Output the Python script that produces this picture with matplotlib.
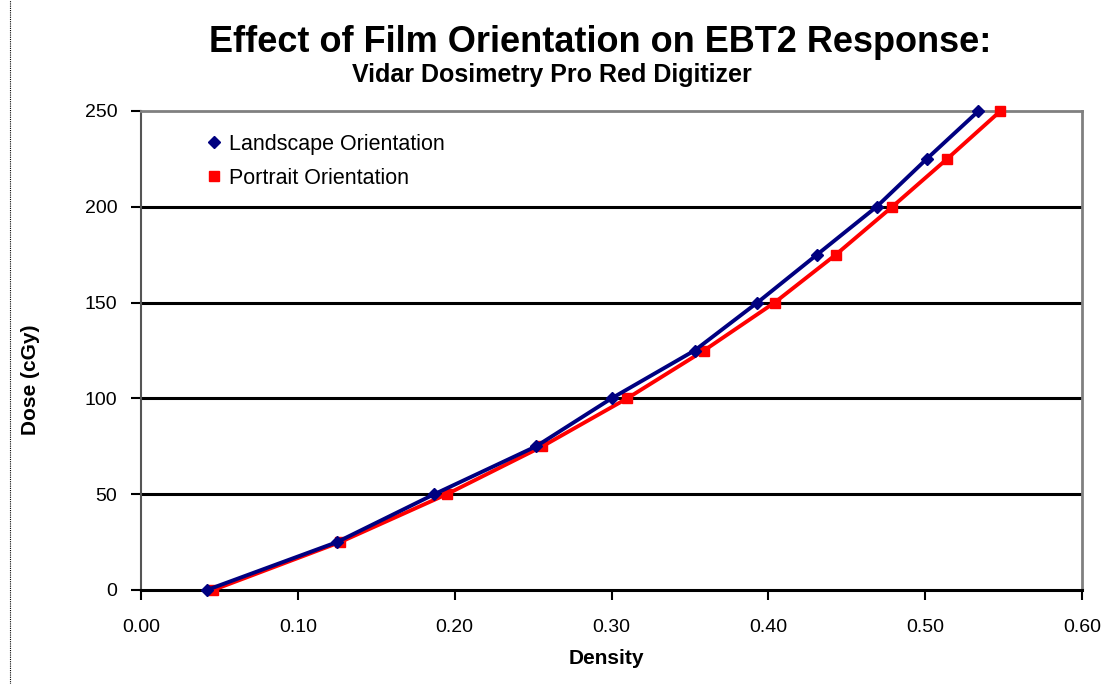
import matplotlib
matplotlib.use("Agg")
import matplotlib.pyplot as plt
from matplotlib.lines import Line2D

dose = [0, 25, 50, 75, 100, 125, 150, 175, 200, 225, 250]
landscape_density = [0.042, 0.125, 0.187, 0.252, 0.300, 0.353, 0.393, 0.431, 0.469, 0.501, 0.534]
portrait_density = [0.046, 0.127, 0.195, 0.256, 0.310, 0.359, 0.404, 0.443, 0.479, 0.514, 0.548]

x_ticks = [0.0, 0.1, 0.2, 0.3, 0.4, 0.5, 0.6]
x_labels = ["0.00", "0.10", "0.20", "0.30", "0.40", "0.50", "0.60"]
y_ticks = [0, 50, 100, 150, 200, 250]

plt.rcParams['font.family'] = ['Liberation Sans', 'DejaVu Sans']

fig = plt.figure(figsize=(11.09, 6.84), dpi=100)
ax = fig.add_axes([141/1109, 1-590/684, (1082-141)/1109, (590-111)/684])

for y in y_ticks[1:-1]:
    ax.axhline(y, color='black', lw=2.2, zorder=1)

ax.plot(landscape_density, dose, color='#000080', lw=2.8, marker='D', ms=6,
        label='Landscape Orientation', zorder=5, clip_on=False)
ax.plot(portrait_density, dose, color='#FF0000', lw=2.8, marker='s', ms=7,
        label='Portrait Orientation', zorder=4, clip_on=False)

ax.set_xlim(0, 0.6)
ax.set_ylim(0, 250)
ax.set_xticks(x_ticks)
ax.set_xticklabels(x_labels)
ax.set_yticks(y_ticks)
ax.tick_params(axis='both', labelsize=14, direction='out', length=7, width=1.5, color='black')
ax.tick_params(axis='x', pad=14)
ax.tick_params(axis='y', pad=10)

for s in ['top', 'right']:
    ax.spines[s].set_color('#808080')
    ax.spines[s].set_linewidth(2)
ax.spines['left'].set_color('#555555')
ax.spines['left'].set_linewidth(1.5)
ax.spines['bottom'].set_color('black')
ax.spines['bottom'].set_linewidth(2.2)
ax.spines['bottom'].set_zorder(3)

ax.set_xlabel('Density', fontsize=15, fontweight='bold')
ax.xaxis.set_label_coords((606-141)/941, -(649-590)/479)
ax.set_ylabel('Dose (cGy)', fontsize=15, fontweight='bold')
ax.yaxis.set_label_coords(-(141-40)/941, (590-380)/479)

handles = [Line2D([], [], color='#000080', marker='D', ms=6, ls='none'),
           Line2D([], [], color='#FF0000', marker='s', ms=7, ls='none')]
ax.legend(handles, ['Landscape Orientation', 'Portrait Orientation'],
          loc='upper left', bbox_to_anchor=(0.05, 0.993), frameon=False,
          fontsize=15.5, handlelength=0.6, handletextpad=0.4, labelspacing=0.6)

fig.text(600/1109, 1-42/684, 'Effect of Film Orientation on EBT2 Response:',
         ha='center', va='center', fontsize=26, fontweight='bold')
fig.text(552/1109, 1-75/684, 'Vidar Dosimetry Pro Red Digitizer',
         ha='center', va='center', fontsize=18, fontweight='bold')

fig.add_artist(Line2D([10/1109, 10/1109], [0, 1], transform=fig.transFigure,
                      color='black', lw=0.8, ls=(0, (1, 1))))

fig.savefig('out.png', dpi=100)
